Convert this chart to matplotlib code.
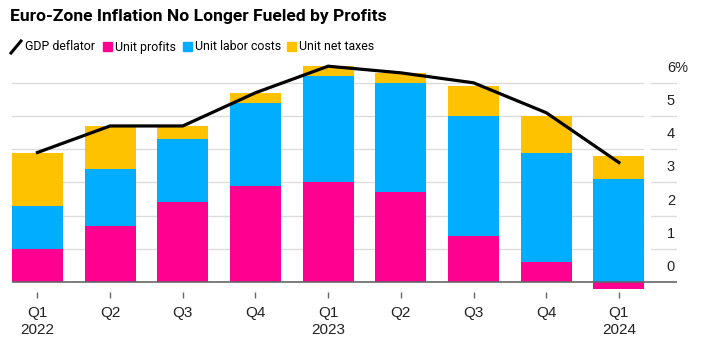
import matplotlib
matplotlib.use("Agg")
import matplotlib.pyplot as plt
from matplotlib.lines import Line2D
from matplotlib.patches import Rectangle
import numpy as np

quarters = ["Q1\n2022", "Q2", "Q3", "Q4", "Q1\n2023", "Q2", "Q3", "Q4", "Q1\n2024"]
unit_profits = [1.0, 1.7, 2.4, 2.9, 3.0, 2.7, 1.4, 0.6, -0.2]
unit_labor = [1.3, 1.7, 1.9, 2.5, 3.2, 3.3, 3.6, 3.3, 3.1]
unit_taxes = [1.6, 1.3, 0.4, 0.3, 0.3, 0.3, 0.9, 1.1, 0.7]
gdp_deflator = [3.9, 4.7, 4.7, 5.7, 6.5, 6.3, 6.0, 5.1, 3.6]
yticks = [0, 1, 2, 3, 4, 5, 6]

PINK = "#ff0090"
BLUE = "#00adff"
YELLOW = "#ffc200"

plt.rcParams['font.family'] = ['Liberation Sans', 'DejaVu Sans']

fig = plt.figure(figsize=(7.09, 3.40), dpi=100)
ax = fig.add_axes([12 / 709, 1 - 292 / 340, 665 / 709, 229 / 340])

x = np.arange(len(quarters))
w = 0.70
profits = np.array(unit_profits)
labor = np.array(unit_labor)
taxes = np.array(unit_taxes)

# positive parts stack up from zero, negative profits hang below
pos_base = np.clip(profits, 0, None)
ax.bar(x, profits, w, color=PINK, zorder=2)
ax.bar(x, labor, w, bottom=pos_base, color=BLUE, zorder=2)
ax.bar(x, taxes, w, bottom=pos_base + labor, color=YELLOW, zorder=2)
ax.plot(x, gdp_deflator, color="black", lw=2.3, zorder=3, clip_on=False)

ax.set_xlim(-0.35, 8.80)
ax.set_ylim(-(292 - 282) / 33.2, (282 - 63) / 33.2)

# gridlines with a small break before the labels
for v in yticks[1:]:
    ax.plot([-0.35, 8.33], [v, v], color="#dcdcdc", lw=1, zorder=1)
    ax.plot([8.44, 8.80], [v, v], color="#dcdcdc", lw=1, zorder=1)
ax.axhline(0, color="#666666", lw=1.2, zorder=4)
for v in yticks:
    ax.text(8.66, v + 0.45, f"{v}%" if v == 6 else str(v), fontsize=10.5,
            va="center", ha="left", color="#222222")

for s in ax.spines.values():
    s.set_visible(False)
ax.set_yticks([])
ax.set_xticks(x)
ax.set_xticklabels(quarters, fontsize=11, linespacing=1.3, color="#222222")
ax.tick_params(axis="x", length=4.3, width=1, color="#666666", pad=5.5)

fig.text(10 / 709, 1 - 17 / 340, "Euro-Zone Inflation No Longer Fueled by Profits",
         fontsize=12.6, fontweight="bold", va="center", ha="left", family="Roboto")

# legend
ly = 1 - 47 / 340
fig.add_artist(Line2D([11 / 709, 21 / 709], [ly - 6 / 340, ly + 6 / 340],
                      color="black", lw=2.2, transform=fig.transFigure))
fig.text(25 / 709, ly, "GDP deflator", fontsize=8.9, va="center", family="Roboto")
for x0, col, lab in [(103, PINK, "Unit profits"), (183, BLUE, "Unit labor costs"),
                     (287, YELLOW, "Unit net taxes")]:
    fig.add_artist(Rectangle((x0 / 709, ly - 4.5 / 340), 9 / 709, 9 / 340,
                             color=col, transform=fig.transFigure))
    fig.text((x0 + 12) / 709, ly, lab, fontsize=8.9, va="center", family="Roboto")

fig.savefig("out.png", dpi=100)
